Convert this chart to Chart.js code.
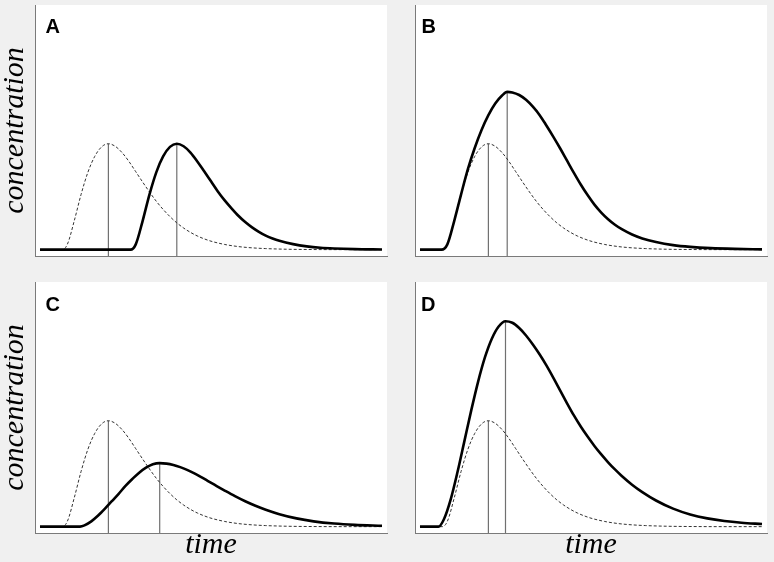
<!DOCTYPE html>
<html>
<head>
<meta charset="utf-8">
<script src="https://cdn.jsdelivr.net/npm/chart.js@4.4.1/dist/chart.umd.min.js"></script>
<style>
  body { margin: 0; background: #f0f0f0; }
  #wrap { position: relative; width: 774px; height: 562px; }
  canvas { position: absolute; }
</style>
</head>
<body>
<div id="wrap">
  <canvas id="panel-A" width="400" height="270" style="left:0;top:0"></canvas>
  <canvas id="panel-B" width="374" height="270" style="left:400px;top:0"></canvas>
  <canvas id="panel-C" width="400" height="292" style="left:0;top:270px"></canvas>
  <canvas id="panel-D" width="374" height="292" style="left:400px;top:270px"></canvas>
</div>
<script>
// input curve (dashed), same in every panel
const inputTimes = [0, 6.5, 8, 10, 12, 14, 16, 18, 20, 22, 24, 26, 28, 30, 32, 34, 36, 38, 40, 42, 44, 46, 48, 50, 54, 58, 62, 66, 72, 80, 90, 100];
const inputValues = [0, 0, 0.05, 0.27, 0.52, 0.73, 0.88, 0.97, 1.0, 0.976, 0.916, 0.833, 0.736, 0.639, 0.545, 0.457, 0.38, 0.312, 0.253, 0.204, 0.163, 0.129, 0.102, 0.08, 0.049, 0.029, 0.017, 0.01, 0.004, 0.001, 0, 0];
const inputPeakTime = 20;
const inputPeakValue = 1.0;

// response curves (solid)
const timesA = [0, 26.5, 28, 30, 32, 34, 36, 38, 40, 42, 44, 46, 48, 50, 52, 54, 56, 58, 60, 62, 64, 66, 68, 70, 74, 78, 82, 86, 92, 100];
const valuesA = [0, 0, 0.05, 0.27, 0.52, 0.73, 0.88, 0.97, 1.0, 0.976, 0.916, 0.833, 0.74, 0.645, 0.55, 0.465, 0.39, 0.32, 0.26, 0.21, 0.168, 0.133, 0.105, 0.083, 0.052, 0.031, 0.018, 0.011, 0.005, 0.002];

const timesB = [0, 6.3, 8, 10, 12, 14, 16, 18, 20, 22, 24, 25.5, 27, 29, 31, 33, 35, 37, 39, 41, 43, 45, 47, 49, 51, 53, 55, 57, 59, 62, 65, 69, 74, 79, 85, 92, 100];
const valuesB = [0, 0, 0.05, 0.27, 0.52, 0.76, 0.96, 1.13, 1.27, 1.38, 1.455, 1.49, 1.484, 1.46, 1.415, 1.35, 1.27, 1.17, 1.065, 0.955, 0.84, 0.725, 0.615, 0.515, 0.425, 0.35, 0.287, 0.235, 0.193, 0.143, 0.106, 0.072, 0.043, 0.026, 0.014, 0.007, 0.003];

const timesC = [0, 11.7, 13, 15, 17, 19, 21, 23, 25, 27, 29, 31, 33, 35, 37, 39, 41, 43, 45, 47, 49, 51, 54, 57, 60, 63, 66, 70, 75, 80, 86, 92, 100];
const valuesC = [0, 0, 0.012, 0.05, 0.105, 0.17, 0.24, 0.31, 0.385, 0.45, 0.51, 0.557, 0.589, 0.6, 0.595, 0.582, 0.562, 0.536, 0.505, 0.47, 0.433, 0.396, 0.341, 0.288, 0.24, 0.197, 0.16, 0.118, 0.078, 0.05, 0.029, 0.017, 0.009];

const timesD = [0, 5.4, 7, 9, 11, 13, 15, 17, 19, 21, 23, 25, 27, 29, 31, 33, 35, 37, 39, 41, 43, 45, 47, 49, 51, 53, 55, 57, 59, 62, 65, 69, 74, 79, 84, 89, 94, 100];
const valuesD = [0, 0, 0.07, 0.26, 0.52, 0.81, 1.1, 1.37, 1.6, 1.775, 1.89, 1.94, 1.925, 1.875, 1.805, 1.72, 1.625, 1.52, 1.405, 1.285, 1.165, 1.05, 0.945, 0.85, 0.762, 0.682, 0.608, 0.54, 0.478, 0.396, 0.326, 0.247, 0.17, 0.115, 0.078, 0.053, 0.037, 0.025];

const panelLetters = ['A', 'B', 'C', 'D'];
const responsePeakTimes = [40, 25.5, 35, 25];
const responsePeakValues = [1.0, 1.49, 0.6, 1.94];

const yMin = -0.06, yMax = 2.31;
const serif = '"Liberation Serif", "Times New Roman", serif';

const toPoints = (ts, vs) => ts.map((t, i) => ({x: t, y: vs[i]}));

const panelPlugin = {
  id: 'panel',
  beforeDraw(chart) {
    const {ctx, chartArea: a} = chart;
    ctx.save();
    ctx.fillStyle = '#fff';
    ctx.fillRect(a.left, a.top, a.right - a.left, a.bottom - a.top);
    ctx.restore();
  },
  afterDraw(chart, args, opts) {
    const {ctx, chartArea: a} = chart;
    ctx.save();
    ctx.font = 'bold 20px "Liberation Sans", Arial, sans-serif';
    ctx.fillStyle = '#000';
    ctx.textBaseline = 'alphabetic';
    ctx.fillText(opts.letter, a.left + opts.dx, a.top + opts.dy);
    ctx.restore();
  }
};

const panels = [
  {times: timesA, values: valuesA, yTitle: true, xTitle: false, pad: {left: 0, top: 5, right: 13, bottom: 14}, dx: 10.5, dy: 27.5},
  {times: timesB, values: valuesB, yTitle: false, xTitle: false, pad: {left: 15, top: 5, right: 7, bottom: 14}, dx: 6.5, dy: 27.5},
  {times: timesC, values: valuesC, yTitle: true, xTitle: true, pad: {left: 0, top: 12, right: 13, bottom: 0}, dx: 10.5, dy: 28.5},
  {times: timesD, values: valuesD, yTitle: false, xTitle: true, pad: {left: 15, top: 12, right: 7, bottom: 0}, dx: 6, dy: 28.5}
];

panels.forEach((p, i) => {
  const letter = panelLetters[i];
  const ctx = document.getElementById('panel-' + letter).getContext('2d');
  const tPk = responsePeakTimes[i], vPk = responsePeakValues[i];
  new Chart(ctx, {
    type: 'line',
    data: {
      datasets: [
        {data: toPoints(p.times, p.values), borderColor: '#000', borderWidth: 2.6, cubicInterpolationMode: 'monotone'},
        {data: toPoints(inputTimes, inputValues), borderColor: '#333', borderWidth: 1, borderDash: [3, 2], cubicInterpolationMode: 'monotone'},
        {data: [{x: inputPeakTime, y: yMin}, {x: inputPeakTime, y: inputPeakValue}], borderColor: '#707070', borderWidth: 1.2},
        {data: [{x: tPk, y: yMin}, {x: tPk, y: vPk}], borderColor: '#707070', borderWidth: 1.2}
      ]
    },
    options: {
      responsive: false,
      animation: false,
      devicePixelRatio: 1,
      layout: {padding: p.pad, autoPadding: false},
      elements: {point: {radius: 0}, line: {borderJoinStyle: 'round', borderCapStyle: 'butt'}},
      scales: {
        x: {
          type: 'linear', min: -1.46, max: 101.46,
          grid: {display: false, drawTicks: false},
          ticks: {display: false},
          border: {display: true, color: '#7a7a7a', width: 1},
          title: {display: p.xTitle, text: 'time', color: '#000',
            font: {family: serif, size: 30, style: 'italic', lineHeight: 0.8},
            padding: {top: 0, bottom: 5}}
        },
        y: {
          type: 'linear', min: yMin, max: yMax,
          grid: {display: false, drawTicks: false},
          ticks: {display: false},
          border: {display: true, color: '#7a7a7a', width: 1},
          title: {display: p.yTitle, text: 'concentration', color: '#000',
            font: {family: serif, size: 30, style: 'italic', lineHeight: 1},
            padding: {top: 0, bottom: 5}}
        }
      },
      plugins: {
        legend: {display: false},
        tooltip: {enabled: false},
        panel: {letter: letter, dx: p.dx, dy: p.dy}
      }
    },
    plugins: [panelPlugin]
  });
});
</script>
</body>
</html>
